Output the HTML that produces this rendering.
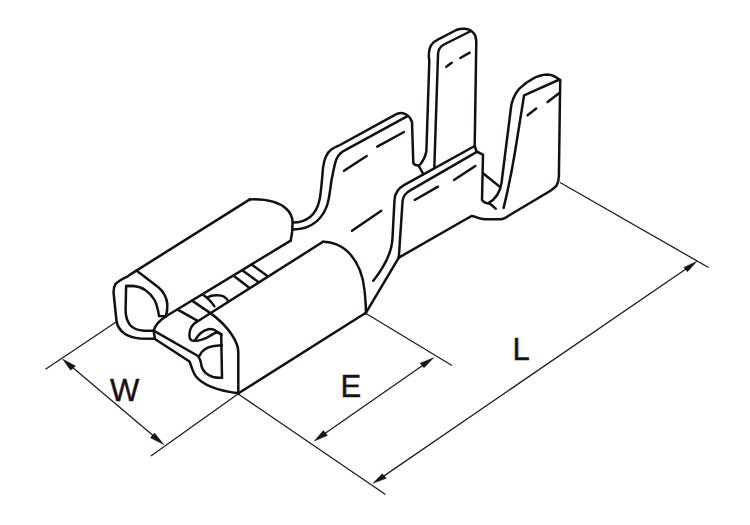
<!DOCTYPE html>
<html><head><meta charset="utf-8"><style>
html,body{margin:0;padding:0;background:#fff;width:750px;height:525px;overflow:hidden}
svg{display:block}
text{font-family:"Liberation Sans",sans-serif;fill:#1a1212;stroke:#1a1212;stroke-width:0.45px}
</style></head><body>
<svg width="750" height="525" viewBox="0 0 750 525">
<g fill="none" stroke="#221c1c" stroke-width="1.3" stroke-linecap="butt">
<path d="M45.5,369.3 L116.5,321.8"/>
<path d="M150.9,456 L238.3,393.8"/>
<path d="M70,365.3 L156,437.9"/>
<path d="M237.5,393.5 L385.5,494.5"/>
<path d="M366,313.5 L452,365.5"/>
<path d="M322,435.5 L425.5,363.5"/>
<path d="M560,182.5 L708.5,267.5"/>
<path d="M381.5,477.6 L688.5,267.2"/>
</g>
<g fill="#1a1212" stroke="#1a1212" stroke-width="0.5" stroke-linejoin="round">
<path d="M62.6,359.1 L75.5,366 L70.6,370.2 Z"/>
<path d="M163.8,444.5 L154.5,433 L150.5,437.8 Z"/>
<path d="M314.3,441.1 L323.4,430.6 L327.4,435.4 Z"/>
<path d="M433.7,357.7 L420,363.3 L424,367.7 Z"/>
<path d="M373,483.3 L382.3,473.7 L386.3,478.3 Z"/>
<path d="M697,261.2 L683.8,267.5 L687.4,271.7 Z"/>
</g>
<text x="110" y="401.2" font-size="31">W</text>
<text x="340.5" y="397" font-size="31">E</text>
<text x="512.4" y="360.1" font-size="31">L</text>
<g fill="none" stroke="#141010" stroke-width="2.5" stroke-linecap="round" stroke-linejoin="round">
<!-- tube -->
<path d="M249.8,199.4 L136.4,270.6 C133,272.5 130.5,274.5 127.9,276.3 C123,278.5 118,281 115.5,284 C113.8,286.5 113.5,290 113.6,293 L116.4,320 C117,326 120,330.5 125,334 C129,336.5 134,338 140,338.5 L154.5,338.7"/>
<path d="M249.8,199.4 C263,199 278,201.5 286,208.5 C290,212 292.4,216.5 292.5,222 C292.6,229 292,235 290.7,240.6"/>
<path d="M290.7,240.6 L166,316.3"/>
<path d="M136.4,270.6 L158,287 C163,291 166.5,297 167.3,304 C167.6,308 167,312 166,316.3"/>
<path d="M133.6,286 L126.1,286 L125.6,310 C125.6,316 127,321 130,325 C133,328.5 138,330.3 144,330.8 L153.6,330.7"/>
<path d="M126.1,286 L133.6,286 C142,286.5 150,292 154.5,300 C157,305 158.3,311 159,316 L166,316.3"/>
<path d="M153.6,330.7 C155,326 158,321 166,316.3"/>
<!-- flange -->
<path d="M153.6,330.7 L197.2,355.5 C200,357.5 201,362 201.6,366.6 C203,371 207,375 213,377 C216,377.8 219,378 222,377.8"/>
<path d="M154.5,338.7 L189.5,361.5 C191.5,366 192.5,372 196,376.5 C203,385 216,390.5 238.5,393.3"/>
<path d="M153.6,330.7 L155,338.7"/>
<path d="M192,300.6 L209.3,312.4 C216,317 226,326 232,335 C236,341 238.3,347 238.3,352 L238.3,393.3"/>
<path d="M323,241.8 L197,321.7 C192,324.5 189.5,329 189.4,335 C189.3,339 191,341 194,340.8 C199,341 204,339.5 209,336.5 C212,334.5 215,332.5 217,332.5 C219,332.5 220.5,333.5 221.5,335"/>
<path d="M195,340.3 C198,335 203,330.5 208.3,329.3 C212,328.5 215,330 217,331.5 L221.3,334.7"/>
<path d="M199.7,355.5 C202,350 207,347 214,346 L221.8,345.2"/>
<path d="M221.2,334 L222,377.8"/>
<!-- stripes -->
<path d="M177.6,309.6 L197.3,320.6"/>
<path d="M202.7,294.5 C207,297.5 211,301 214.4,306.3"/>
<path d="M208,297.2 C212,295 220,294.5 224,296.7 C226,298 227.5,299.5 228.3,301"/>
<path d="M233.6,275.7 L248.6,287.3"/>
<path d="M242.6,270.6 L258,281.7"/>
<path d="M251.6,264.6 L267,275.7"/>
<!-- barrel -->
<path d="M323,241.8 C331,241.5 342,245 350,254 C358,263 363,275 364.5,290 C365.5,300 366,307 365.9,313.3"/>
<path d="M238.5,393.3 L365.9,312.8 L398.8,257.6"/>
<path d="M398.8,257.6 L471.5,216 C475,216 479,219 485,219.3 L501,219.3 C504,219 506,217.5 509,215.5 L545,194 C550,191 554,189 556.5,185.5 C558,183 558.8,180 558.9,176 L560.2,80"/>
<path d="M352,230.7 L381.3,210.7"/>
<!-- right ear -->
<path d="M560,80.5 C556,76.5 552,74.6 547,74.6 C538,75 527,80.5 519,89 C514,95 511.2,102 510.7,110 L501.5,183 C500,192 496,199 488.6,202.9"/>
<path d="M559.5,79.5 L524.1,95.3 L515,152 C512,170 508,190 503.6,207.9"/>
<path d="M547.6,101.9 L559,93.3"/>
<path d="M527.6,115.2 L536.2,108.6"/>
<!-- tall tab -->
<path d="M419.3,165.3 C422.5,162 425.3,157 426.4,151 L429.3,61.3 C428.5,56 428.5,50 431,45.3 C433,42 435.5,40.5 438.3,39.3 L456.3,30 C459,28.8 462,28.5 465,28.7 C469,29 472,31 474,33.5 C476,36 476.3,39 476.3,42 L474.7,146"/>
<path d="M434.3,168 L438,55 C438,50 440,46.5 444,44.5 L471,31"/>
<path d="M446.3,66.7 L451.7,62.7"/>
<path d="M460.3,58 L469.7,52.7"/>
<!-- left wing -->
<path d="M293.3,222.5 C299,222.5 305,221 310,217 C315,213 318,207 319.5,200 C321,193 322,180 323,168 C324,160 326,153.5 331,149.8 C334,147.5 337,146.5 340,145 L395,114.8 C398,113 400.5,112.7 403,113.2 C407,114 410.5,117.5 412,122 L413.3,163 C413.8,164.5 416,165.3 418.5,165.5 L423.3,174"/>
<path d="M293.3,229.5 C301,229.5 310,227 316.6,221.4 C322,216.5 325.5,211 327.5,204 C329.5,197 330.5,188 331.5,180 C333.5,171 334.5,164 336.5,159 C338.5,154.5 341.5,152 345.2,150.2 L407,116.3"/>
<path d="M344,170.7 L366.7,156"/>
<path d="M377.3,146.7 L404,132"/>
<!-- middle wall -->
<path d="M474.7,146 L404,185.2 C398.5,188.2 395,193.5 394.5,200 L392.5,238 C392,252 385,266 373.3,280.8"/>
<path d="M476,152.3 L410.7,190.2 C406,192.7 403,196.5 402.6,201 L398.8,257.6"/>
<path d="M474.7,146 L476.5,151.5 L483,154.6 L482,200 C483.5,202 486.5,203.5 490,203.8 L495.7,208.6"/>
<path d="M483.3,173.5 L499.3,186.4"/>
<path d="M454,180 L475.3,166"/>
<path d="M414.7,200 L438,186.7"/>
</g>
</svg>
</body></html>
